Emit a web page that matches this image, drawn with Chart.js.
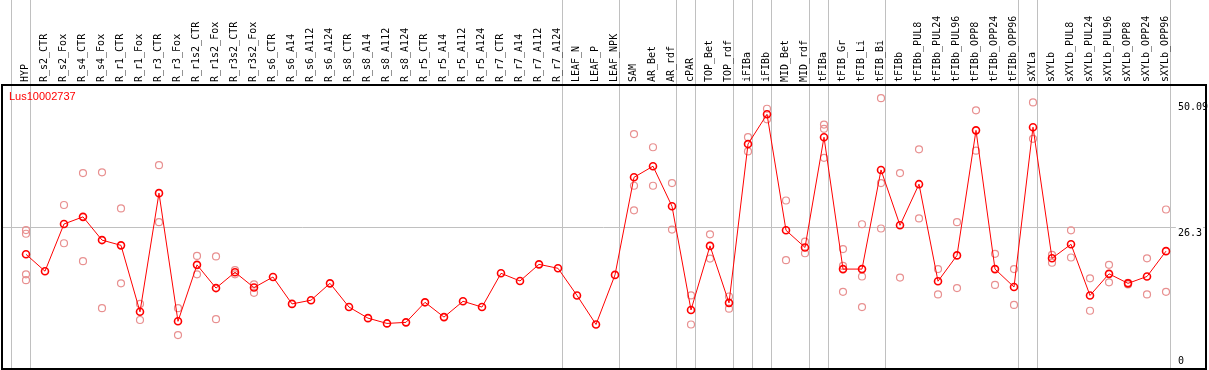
<!DOCTYPE html>
<html><head><meta charset="utf-8">
<script src="https://cdn.jsdelivr.net/npm/chart.js@4"></script>
<style>html,body{margin:0;padding:0;background:#fff;}canvas{display:block;}</style>
</head><body>
<canvas id="c" width="1209" height="370"></canvas>
<script>
const categories = ["HYP","R_s2_CTR","R_s2_Fox","R_s4_CTR","R_s4_Fox","R_r1_CTR","R_r1_Fox","R_r3_CTR","R_r3_Fox","R_r1s2_CTR","R_r1s2_Fox","R_r3s2_CTR","R_r3s2_Fox","R_s6_CTR","R_s6_A14","R_s6_A112","R_s6_A124","R_s8_CTR","R_s8_A14","R_s8_A112","R_s8_A124","R_r5_CTR","R_r5_A14","R_r5_A112","R_r5_A124","R_r7_CTR","R_r7_A14","R_r7_A112","R_r7_A124","LEAF_N","LEAF_P","LEAF_NPK","SAM","AR_Bet","AR_rdf","cPAR","TOP_Bet","TOP_rdf","iFIBa","iFIBb","MID_Bet","MID_rdf","tFIBa","tFIB_Gr","tFIB_Li","tFIB_Bi","tFIBb","tFIBb_PUL8","tFIBb_PUL24","tFIBb_PUL96","tFIBb_OPP8","tFIBb_OPP24","tFIBb_OPP96","sXYLa","sXYLb","sXYLb_PUL8","sXYLb_PUL24","sXYLb_PUL96","sXYLb_OPP8","sXYLb_OPP24","sXYLb_OPP96"];

const means = [21.3,18.1,27.05,28.4,24.0,23.0,10.4,32.9,8.6,19.3,14.9,17.9,15.0,17.0,11.9,12.6,15.8,11.3,9.2,8.2,8.4,12.2,9.4,12.4,11.3,17.7,16.25,19.4,18.65,13.5,8.0,17.4,35.9,38.0,30.4,10.75,22.9,12.1,42.2,47.85,25.85,22.6,43.5,18.5,18.5,37.3,26.8,34.6,16.2,21.1,44.8,18.5,15.1,45.4,20.55,23.2,13.5,17.6,15.8,17.1,21.9];

const replicates = [
  [25.9,25.2,17.5,16.4],[],[30.65,23.4],[36.7,20.0],[36.85,11.1],[30.0,15.8],[11.9,8.85],[38.2,27.4],[11.1,6.0],
  [21.0,17.5],[20.9,9.0],[18.3,17.5],[15.6,14.0],
  [],[],[],[],[],[],[],[],[],[],[],[],[],[],[],[],[],[],[],
  [44.1,34.3,29.65],[41.6,34.3],[34.8,26.0],[13.5,8.0],[25.1,20.5],[13.3,11.0],[43.5,40.8],[48.9,46.9],
  [31.5,20.2],[23.7,21.5],[45.9,45.1,39.6],[22.3,19.1,14.2],[27.0,17.1,11.3],[50.9,34.8,26.2],
  [36.7,16.9],[41.2,28.1],[18.5,13.7],[27.4,14.9],[48.6,40.95],[21.4,15.5],[18.5,11.7],
  [50.1,43.2],[21.2,19.7],[25.85,20.7],[16.75,10.6],[19.3,16.0],[15.9,15.6],[20.55,13.7],[29.8,14.2]
];

const groupEnds = [-1,0,28,31,34,35,37,38,39,41,42,45,52,53,60];
const yTickValues = [0, 26.3, 50.09];
const geneId = "Lus10002737";

const X_MIN = -1.263, X_MAX = 62.105;
const Y_MIN = -0.44, Y_MAX = 53.4;
const MONO = "DejaVu Sans Mono";

const meanPts = means.map((v, i) => ({x: i, y: v}));
const repPts = [];
replicates.forEach((arr, i) => arr.forEach(v => repPts.push({x: i, y: v})));

function noPad(s) { s.paddingLeft = 0; s.paddingRight = 0; s.paddingTop = 0; s.paddingBottom = 0; }

const titlePlugin = {
  id: 'geneTitle',
  afterDatasetsDraw(chart) {
    const {ctx, chartArea} = chart;
    ctx.save();
    ctx.font = '11px "Liberation Sans"';
    ctx.fillStyle = '#ff0000';
    ctx.textBaseline = 'top';
    ctx.textAlign = 'left';
    ctx.fillText(geneId, chartArea.left + 7, chartArea.top + 6);
    ctx.restore();
  }
};

new Chart(document.getElementById('c'), {
  type: 'line',
  data: {
    datasets: [
      {label: 'mean', data: meanPts, borderColor: '#ff0000', borderWidth: 1,
       pointRadius: 3.5, pointBorderWidth: 1.6, pointBorderColor: '#ff0000',
       pointBackgroundColor: 'rgba(0,0,0,0)', fill: false, tension: 0, order: 0,
       xAxisID: 'x', yAxisID: 'y'},
      {label: 'replicates', type: 'scatter', data: repPts, showLine: false,
       pointRadius: 3.5, pointBorderWidth: 1.2, pointBorderColor: '#e89090',
       pointBackgroundColor: 'rgba(0,0,0,0)', order: 1, xAxisID: 'x', yAxisID: 'y'}
    ]
  },
  options: {
    responsive: false, animation: false, devicePixelRatio: 1,
    layout: {autoPadding: false, padding: {left: 2, right: 3, top: 0, bottom: 1}},
    plugins: {legend: {display: false}, tooltip: {enabled: false}},
    scales: {
      x: {
        type: 'linear', position: 'top', min: X_MIN, max: X_MAX, weight: 1,
        afterBuildTicks(s) { s.ticks = categories.map((c, i) => ({value: i})); },
        afterFit(s) { s.height = 85; noPad(s); },
        grid: {display: false, drawTicks: false},
        border: {display: true, color: '#000', width: 2},
        ticks: {autoSkip: false, minRotation: 90, maxRotation: 90, padding: 3, labelOffset: 11.5, color: '#000',
                font: {family: MONO, size: 10}, callback: (v) => categories[v]}
      },
      xs: {
        type: 'linear', position: 'top', min: X_MIN, max: X_MAX, weight: 0,
        afterBuildTicks(s) { s.ticks = groupEnds.map(g => ({value: g + 0.237})); },
        afterFit(s) { s.height = 0; noPad(s); },
        ticks: {display: false},
        grid: {color: '#c0c0c0', lineWidth: 1, drawTicks: true, tickLength: 85, tickColor: '#c0c0c0'},
        border: {display: false}
      },
      xb: {
        type: 'linear', position: 'bottom', min: 0, max: 1,
        afterFit(s) { s.height = 0; noPad(s); },
        ticks: {display: false}, grid: {display: false, drawTicks: false},
        border: {display: true, color: '#000', width: 2}
      },
      yl: {
        type: 'linear', position: 'left', min: 0, max: 1,
        afterFit(s) { s.width = 0; noPad(s); },
        ticks: {display: false}, grid: {display: false, drawTicks: false},
        border: {display: true, color: '#000', width: 2}
      },
      y: {
        type: 'linear', position: 'right', min: Y_MIN, max: Y_MAX,
        afterBuildTicks(s) { s.ticks = yTickValues.map(v => ({value: v})); },
        afterFit(s) { s.width = 0; noPad(s); },
        grid: {drawTicks: false, lineWidth: 1,
               color: (c) => (c.tick && c.tick.value === 26.3) ? '#c0c0c0' : 'rgba(0,0,0,0)'},
        border: {display: true, color: '#000', width: 2},
        ticks: {mirror: true, crossAlign: 'far', padding: 2, color: '#000',
                font: {family: MONO, size: 10, lineHeight: 1},
                showLabelBackdrop: true,
                backdropColor: (c) => (c.tick && c.tick.value === 26.3) ? '#ffffff' : 'rgba(0,0,0,0)',
                backdropPadding: {top: 0, bottom: 0, left: 2, right: 1},
                callback: (v) => v === 0 ? ['0', ''] : ['', String(v)]}
      }
    }
  },
  plugins: [titlePlugin]
});
</script>
</body></html>
